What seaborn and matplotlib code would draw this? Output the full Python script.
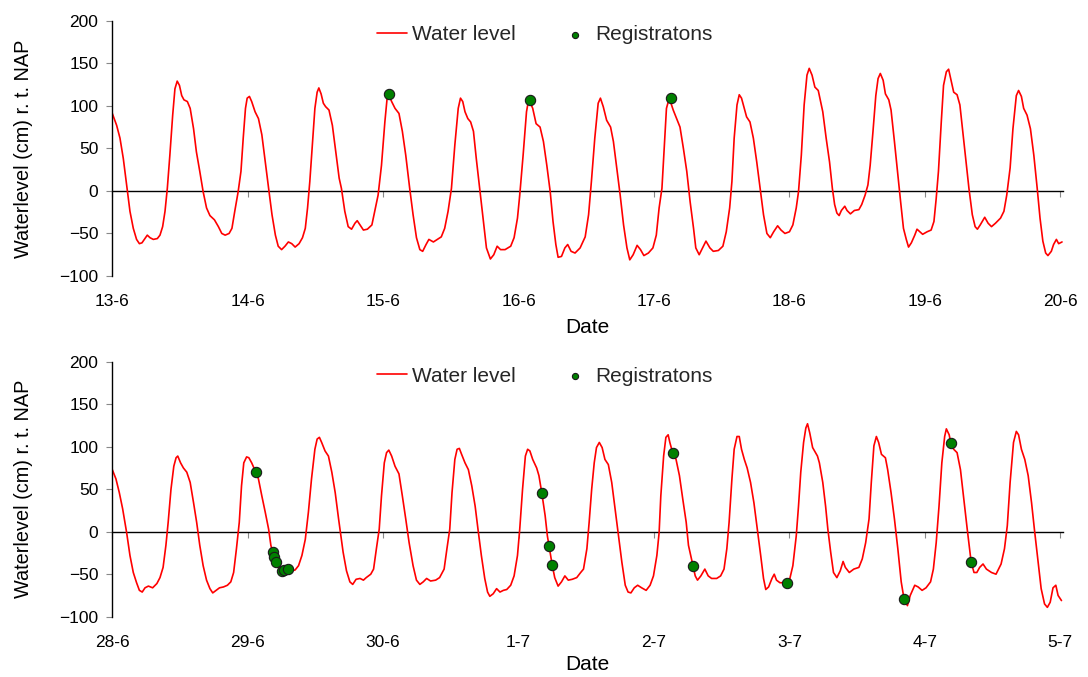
import matplotlib
matplotlib.use("Agg")
import matplotlib.pyplot as plt
import seaborn as sns
import pandas as pd

# ---------------- data (hours since first date, cm r.t. NAP) ----------------
top_tick_labels = ["13-6", "14-6", "15-6", "16-6", "17-6", "18-6", "19-6", "20-6"]
bottom_tick_labels = ["28-6", "29-6", "30-6", "1-7", "2-7", "3-7", "4-7", "5-7"]
tick_hours = [0, 24, 48, 72, 96, 120, 144, 168]

top_hours = [0, 0.77, 1.36, 1.95, 2.54, 3.13, 3.72, 4.3, 4.8, 5.26, 5.67, 6.2, 6.68, 7.27, 7.98,
             8.45, 8.92, 9.34, 9.75, 10.2, 10.7, 11.1, 11.5, 11.9, 12.3, 12.7, 13.3, 13.8, 14.4,
             14.9, 15.5, 16.1, 16.7, 17.3, 18.1, 18.8, 19.4, 20.0, 20.7, 21.2, 21.7, 22.3, 22.8,
             23.2, 23.6, 23.9, 24.3, 24.7, 25.3, 25.9, 26.5, 27.1, 27.7, 28.3, 28.9, 29.4, 30.0,
             30.6, 31.2, 31.8, 32.4, 33.1, 33.7, 34.2, 34.6, 35.0, 35.5, 35.9, 36.3, 36.6, 37.0,
             37.4, 37.8, 38.4, 39.0, 39.6, 40.2, 40.6, 41.2, 41.8, 42.4, 43.0, 43.4, 43.9, 44.5,
             45.2, 46.0, 46.5, 47.1, 47.7, 48.3, 48.7, 49.0, 49.5, 50.1, 50.8, 51.4, 52.0, 52.7,
             53.3, 53.9, 54.5, 55.0, 55.6, 56.1, 56.9, 57.6, 58.3, 58.9, 59.5, 60.1, 60.7, 61.3,
             61.7, 62.1, 62.5, 63.0, 63.5, 64.0, 64.5, 65.1, 65.7, 66.3, 67.0, 67.6, 68.2, 68.8,
             69.6, 70.6, 71.2, 71.8, 72.2, 72.8, 73.4, 73.8, 74.5, 75.1, 75.8, 76.4, 77.0, 77.6,
             78.1, 78.6, 79.0, 79.6, 80.2, 80.7, 81.3, 82.0, 82.9, 83.8, 84.4, 84.9, 85.5, 86.1,
             86.5, 87.0, 87.6, 88.3, 88.8, 89.4, 90.0, 90.6, 91.2, 91.7, 92.3, 93.0, 93.6, 94.2,
             95.0, 95.8, 96.4, 96.9, 97.4, 97.8, 98.2, 98.7, 99.4, 100.0, 100.6, 101.2, 101.8,
             102.4, 103.0, 103.4, 104.0, 104.6, 105.2, 105.9, 106.5, 107.4, 108.2, 108.8, 109.4,
             109.8, 110.2, 110.7, 111.1, 111.5, 112.0, 112.4, 113.0, 113.6, 114.2, 114.8, 115.4,
             116.0, 116.6, 117.2, 117.9, 118.5, 119.2, 120.0, 120.6, 121.2, 121.6, 122.1, 122.6,
             123.1, 123.5, 124.0, 124.5, 125.1, 125.9, 126.5, 127.1, 127.6, 128.0, 128.4, 128.8,
             129.2, 129.8, 130.2, 130.8, 131.5, 132.3, 132.8, 133.4, 133.9, 134.3, 134.8, 135.3,
             135.7, 136.1, 136.6, 137.0, 137.6, 138.0, 138.6, 139.2, 139.7, 140.2, 140.7, 141.1,
             141.6, 142.2, 142.6, 143.1, 143.6, 144.4, 145.1, 145.6, 146.0, 146.4, 146.9, 147.3,
             147.8, 148.2, 148.7, 149.1, 149.7, 150.2, 150.7, 151.3, 151.8, 152.4, 152.9, 153.3,
             153.8, 154.6, 155.2, 155.8, 156.5, 157.4, 158.0, 158.5, 159.1, 159.6, 160.2, 160.6,
             161.1, 161.5, 162.1, 162.7, 163.3, 163.9, 164.4, 164.9, 165.4, 165.8, 166.4, 166.8,
             167.3, 167.7, 168.3]
top_level = [91, 77, 62, 38, 7, -24, -44, -57, -62, -61, -57, -52, -55, -57, -56,
             -52, -42, -24, 3, 42, 89, 120, 129, 124, 112, 107, 105, 97, 73,
             46, 23, -1, -20, -29, -34, -42, -50, -52, -50, -44, -24, -1, 23,
             62, 97, 109, 111, 105, 93, 85, 66, 34, 3, -28, -52, -65, -69,
             -65, -60, -62, -66, -62, -55, -44, -20, 11, 58, 97, 116, 121, 114,
             103, 99, 95, 77, 46, 15, 3, -24, -42, -45, -38, -35, -40, -46,
             -45, -40, -24, -5, 30, 81, 109, 113, 105, 97, 91, 70, 42, 3,
             -28, -55, -69, -71, -63, -57, -60, -57, -54, -44, -24, 3, 54, 97,
             109, 105, 93, 85, 81, 70, 38, 3, -32, -67, -80, -75, -65, -69,
             -69, -65, -55, -32, -5, 42, 93, 108, 97, 79, 75, 58, 30, -1,
             -36, -63, -78, -77, -67, -63, -71, -73, -67, -54, -28, 11, 62, 103,
             109, 99, 83, 75, 58, 27, -5, -40, -67, -81, -75, -64, -69, -76,
             -73, -67, -52, -20, 3, 50, 97, 109, 95, 85, 75, 50, 23,
             -13, -44, -67, -75, -67, -59, -67, -71, -70, -65, -48, -20,
             11, 62, 101, 113, 109, 97, 87, 81, 62, 34, 3, -28,
             -50, -55, -48, -41, -46, -50, -48, -40, -20, -1, 42, 101,
             136, 144, 136, 122, 118, 93, 62, 34, 3, -16, -26, -29,
             -23, -18, -23, -27, -23, -22, -16, -5, 7, 30, 70, 112,
             132, 138, 130, 114, 107, 95, 58, 19, -13, -44, -57, -66,
             -61, -52, -45, -48, -51, -48, -46, -36, -9, 23, 81, 124,
             140, 143, 128, 116, 113, 101, 70, 34, 3, -28, -42, -45,
             -40, -31, -38, -42, -38, -32, -24, -5, 27, 73, 112, 118,
             111, 97, 89, 73, 42, 3, -32, -59, -73, -76, -71, -63,
             -57, -62, -60]

top_reg_hours = [49.0, 74.1, 99.0]
top_reg_level = [114, 107, 109]

bottom_hours = [0, 0.65, 1.24, 1.83, 2.54, 3.13, 3.72, 4.3, 4.8, 5.3, 5.8, 6.4, 7.15, 7.9, 8.45,
                9.0, 9.5, 9.9, 10.4, 10.9, 11.3, 11.6, 12.1, 12.6, 13.2, 13.8, 14.4, 14.95, 15.5,
                16.1, 16.7, 17.3, 17.8, 18.4, 19.0, 19.7, 20.4, 21.0, 21.5, 22.0, 22.5, 22.9, 23.3,
                23.8, 24.2, 24.7, 25.1, 25.5, 25.9, 26.5, 27.1, 27.7, 28.1, 28.5, 29.0, 29.6, 30.2,
                30.8, 31.4, 31.8, 32.4, 33.0, 33.6, 34.2, 34.75, 35.3, 35.9, 36.3, 36.7, 37.1, 37.7,
                38.3, 38.9, 39.5, 40.1, 40.9, 41.5, 42.1, 42.6, 43.2, 43.9, 44.5, 45.0, 45.8, 46.3,
                46.8, 47.3, 47.7, 48.2, 48.6, 49.0, 49.5, 50.1, 50.8, 51.4, 52.0, 52.6, 53.3, 53.9,
                54.5, 55.1, 55.7, 56.4, 57.3, 58.0, 58.8, 59.3, 59.8, 60.2, 60.7, 61.1, 61.5, 61.9,
                62.5, 63.1, 63.7, 64.3, 64.8, 65.4, 66.0, 66.5, 66.9, 67.5, 68.1, 68.7, 69.3, 69.9,
                70.6, 71.2, 71.8, 72.2, 72.7, 73.2, 73.6, 74.0, 74.5, 75.2, 75.6, 76.1, 76.7, 77.1,
                77.4, 77.95, 78.4, 79.0, 79.6, 80.2, 80.8, 81.5, 82.3, 83.0, 83.5, 84.1, 84.5, 84.95,
                85.4, 85.8, 86.3, 86.8, 87.3, 87.9, 88.5, 89.1, 89.7, 90.3, 90.9, 91.4, 91.9, 92.5,
                93.1, 93.8, 94.6, 95.3, 95.9, 96.5, 96.9, 97.2, 97.7, 98.1, 98.5, 98.8, 99.3, 99.9,
                100.5, 101.1, 101.7, 102.1, 102.9, 103.3, 103.7, 104.3, 105.0, 105.6, 106.2, 107.1,
                107.8, 108.4, 108.9, 109.3, 109.8, 110.2, 110.7, 111.1, 111.5, 112.0, 112.5, 113.1,
                113.7, 114.3, 114.9, 115.4, 115.8, 116.3, 116.9, 117.3, 117.7, 118.3, 119.6, 120.0,
                120.6, 121.2, 121.6, 122.0, 122.5, 122.9, 123.2, 123.6, 124.1, 124.96, 125.3, 125.9,
                126.4, 126.8, 127.3, 127.8, 128.4, 129.0, 129.5, 129.9, 130.6, 131.4, 132.3, 132.9,
                133.5, 134.1, 134.5, 134.96, 135.4, 135.8, 136.3, 137.0, 137.4, 138.0, 138.6, 139.2,
                139.8, 140.3, 140.9, 141.4, 142.2, 142.8, 143.5, 144.2, 145.0, 145.5, 146.0, 146.5,
                147.0, 147.5, 147.8, 148.3, 148.6, 149.1, 149.7, 150.3, 150.9, 151.5, 152.2, 152.7,
                153.2, 153.7, 154.3, 154.9, 155.8, 156.6, 157.5, 158.1, 158.6, 159.1, 159.7, 160.2,
                160.6, 161.1, 161.7, 162.3, 162.9, 163.4, 164.0, 164.6, 165.2, 165.7, 166.2, 166.7,
                167.2, 167.6, 168.2]
bottom_level = [73, 62, 46, 27, -1, -28, -48, -60, -69, -71, -66, -64, -66, -61, -54,
                -42, -16, 11, 50, 77, 87, 89, 81, 75, 70, 58, 34, 11, -16,
                -40, -57, -67, -72, -69, -66, -65, -63, -59, -48, -20, 11, 54, 81,
                88, 87, 81, 75, 70, 62, 42, 23, 3, -16, -26, -36, -44, -46,
                -45, -44, -46, -45, -40, -28, -9, 23, 62, 97, 109, 111, 105, 95,
                89, 70, 46, 15, -24, -46, -59, -62, -56, -55, -57, -54, -50, -44,
                -20, 3, 42, 81, 93, 96, 89, 77, 68, 42, 15, -13, -40, -57,
                -62, -59, -55, -58, -57, -54, -44, -20, 3, 46, 85, 97, 98, 91,
                81, 73, 54, 30, 3, -28, -55, -71, -76, -73, -67, -71, -69, -68,
                -63, -52, -28, 3, 50, 89, 97, 95, 85, 75, 66, 46, 19, -5,
                -17, -39, -54, -64, -59, -52, -57, -56, -54, -48, -44, -20, 11, 50,
                81, 99, 105, 99, 85, 79, 58, 27, -5, -36, -63, -71, -72, -66,
                -63, -66, -69, -63, -52, -28, -1, 42, 89, 111, 114, 105, 93, 85,
                66, 38, 11, -16, -40, -52, -57, -52, -44, -52, -55, -55,
                -52, -44, -20, 11, 62, 97, 112, 112, 97, 85, 75, 58,
                34, 3, -28, -55, -68, -65, -55, -50, -57, -60, -60, -57,
                -40, -5, 30, 70, 105, 122, 127, 116, 99, 89, 81, 58,
                30, 3, -24, -48, -54, -46, -35, -42, -48, -44, -42, -32,
                -13, 15, 58, 101, 112, 105, 91, 87, 73, 46, 15, -20,
                -59, -79, -87, -75, -63, -65, -69, -66, -59, -44, -13, 30,
                81, 112, 121, 114, 104, 97, 93, 73, 38, 3, -36, -48,
                -48, -42, -38, -44, -48, -50, -38, -20, 7, 58, 105, 118,
                114, 97, 85, 66, 34, 3, -32, -67, -85, -89, -83, -66,
                -63, -75, -81]

bottom_reg_hours = [25.5, 28.4, 28.7, 29.0, 30.0, 30.4, 31.2, 76.1, 77.4, 77.95,
                    99.3, 102.9, 119.6, 140.3, 148.6, 152.2]
bottom_reg_level = [70, -24, -30, -36, -46, -45, -44, 46, -17, -39,
                    93, -40, -60, -79, 104, -36]

# ---------------- style ----------------
sns.set_theme(style="white")
plt.rcParams["font.family"] = ["Liberation Sans", "DejaVu Sans"]

W, H = 1088, 677
fig = plt.figure(figsize=(W / 100, H / 100), dpi=100)

left = 112.3 / W
width = (1062.6 - 112.3) / W
ax_top = fig.add_axes([left, 1 - 276.0 / H, width, 255.3 / H])
ax_bot = fig.add_axes([left, 1 - 616.7 / H, width, 255.0 / H])

panels = [
    (ax_top, top_hours, top_level, top_reg_hours, top_reg_level, top_tick_labels, 35, 6.5),
    (ax_bot, bottom_hours, bottom_level, bottom_reg_hours, bottom_reg_level, bottom_tick_labels, 376, 3.5),
]

for ax, hrs, lvl, rh, rl, labels, leg_y, xpad in panels:
    df = pd.DataFrame({"hour": hrs, "level": lvl})
    dreg = pd.DataFrame({"hour": rh, "level": rl})
    sns.lineplot(data=df, x="hour", y="level", color="red", linewidth=1.2,
                 label="Water level", ax=ax, sort=False, zorder=2)
    sns.scatterplot(data=dreg, x="hour", y="level", color="#008000", edgecolor="#1a1a1a",
                    linewidth=0.8, s=55, label="Registratons", ax=ax, zorder=4)

    ax.set_xlim(0, 168.4)
    ax.set_ylim(-100, 200)
    ax.set_yticks([-100, -50, 0, 50, 100, 150, 200])
    ax.set_xticks(tick_hours)
    ax.set_xticklabels(labels)

    for s in ["top", "right", "bottom"]:
        ax.spines[s].set_visible(False)
    ax.spines["left"].set_color("black")
    ax.spines["left"].set_linewidth(1.0)

    ax.tick_params(axis="y", direction="out", length=4, width=0.8, color="#888888",
                   labelsize=12.5, pad=6, left=True, labelcolor="black")
    ax.tick_params(axis="x", length=0, labelsize=12.5, pad=13, labelcolor="black")

    # x axis crossing at zero with small tick marks
    sec = ax.secondary_xaxis(1 / 3)
    sec.set_xticks(tick_hours)
    sec.tick_params(axis="x", direction="out", length=4, width=0.8, color="#888888",
                    labelbottom=False, labeltop=False)
    for s in sec.spines:
        sec.spines[s].set_visible(False)
    sec.spines["bottom"].set_visible(True)
    sec.spines["bottom"].set_color("black")
    sec.spines["bottom"].set_linewidth(1.0)

    ax.set_xlabel("Date", fontsize=15, labelpad=xpad, color="black")
    ax.set_ylabel("Waterlevel (cm) r. t. NAP", fontsize=14.3, labelpad=19, color="black")
    ax.grid(False)

    ax.legend(loc="center left", bbox_to_anchor=(377 / W, 1 - leg_y / H),
              bbox_transform=fig.transFigure, ncol=2, frameon=False, fontsize=15,
              handlelength=1.45, handletextpad=0.25, columnspacing=2.1, markerscale=0.6,
              borderpad=0, borderaxespad=0)

fig.savefig("out.png", dpi=100)
